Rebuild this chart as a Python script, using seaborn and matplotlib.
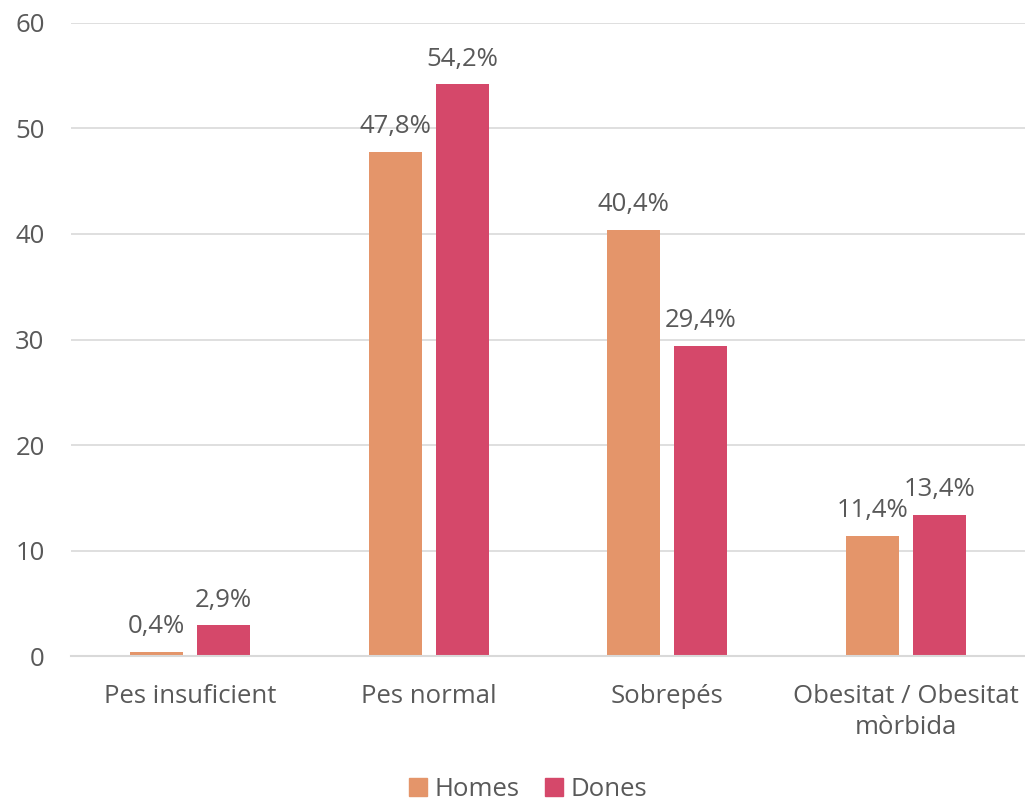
import matplotlib
matplotlib.use("Agg")
import matplotlib.pyplot as plt
import seaborn as sns
import pandas as pd

categories = ["Pes insuficient", "Pes normal", "Sobrepés", "Obesitat / Obesitat\nmòrbida"]
homes = [0.4, 47.8, 40.4, 11.4]
dones = [2.9, 54.2, 29.4, 13.4]
series = ["Homes", "Dones"]
yticks = [0, 10, 20, 30, 40, 50, 60]

sns.set_theme(style="white")
plt.rcParams["font.family"] = ["Open Sans", "DejaVu Sans"]
TXT = "#595959"
FS = 18.5

df = pd.DataFrame({
    "cat": categories * 2,
    "val": homes + dones,
    "serie": [series[0]] * 4 + [series[1]] * 4,
})

fig = plt.figure(figsize=(10.25, 8.01), dpi=100)
ax = fig.add_axes([0.0693, 0.181, 0.9307, 0.7903])
palette = {"Homes": "#E4956A", "Dones": "#D5486A"}
sns.barplot(data=df, x="cat", y="val", hue="serie", palette=palette,
            width=0.562, gap=0.21, ax=ax, legend=False, saturation=1,
            linewidth=0)

ax.set_ylim(0, 60)
ax.set_xlim(-0.5, 3.5)
ax.set_yticks(yticks)
ax.yaxis.grid(True, color="#D9D9D9", linewidth=1.2)
ax.set_axisbelow(True)
for s in ["top", "right", "left"]:
    ax.spines[s].set_visible(False)
ax.spines["bottom"].set_color("#D9D9D9")
ax.spines["bottom"].set_linewidth(1.5)
ax.tick_params(axis="both", length=0, colors=TXT, labelsize=FS)
ax.tick_params(axis="y", pad=19)
ax.tick_params(axis="x", pad=20)
for lbl in ax.get_xticklabels():
    lbl.set_linespacing(1.35)
ax.set_xlabel("")
ax.set_ylabel("")

for cont in ax.containers:
    labels = [f"{v:.1f}%".replace(".", ",") for v in cont.datavalues]
    ax.bar_label(cont, labels=labels, padding=9, color=TXT, fontsize=FS)

from matplotlib.patches import Patch
handles = [Patch(color=palette[s], label=s) for s in series]
fig.legend(handles=handles, loc="lower center", bbox_to_anchor=(0.515, -0.03),
           ncol=2, frameon=False, fontsize=FS, handlelength=0.7, handleheight=0.7,
           handletextpad=0.3, columnspacing=1.0, labelcolor=TXT)

fig.savefig("out.png", dpi=100, facecolor="white")
